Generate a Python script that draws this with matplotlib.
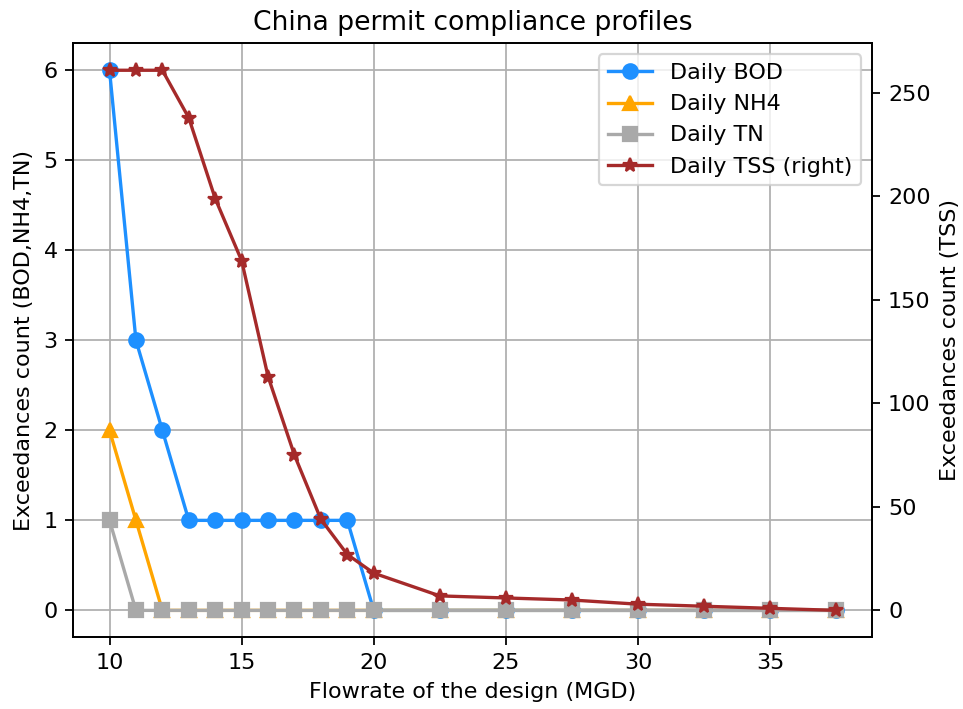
import matplotlib
matplotlib.use("Agg")
import matplotlib.pyplot as plt

# flowrate del diseno (MGD)
flowrate = [10, 11, 12, 13, 14, 15, 16, 17, 18, 19, 20, 22.5, 25, 27.5, 30, 32.5, 35, 37.5]

# conteo de excedencias por contaminante
bod = [6, 3, 2, 1, 1, 1, 1, 1, 1, 1, 0, 0, 0, 0, 0, 0, 0, 0]
nh4 = [2, 1, 0, 0, 0, 0, 0, 0, 0, 0, 0, 0, 0, 0, 0, 0, 0, 0]
tn = [1, 0, 0, 0, 0, 0, 0, 0, 0, 0, 0, 0, 0, 0, 0, 0, 0, 0]
tss = [261, 261, 261, 238, 199, 169, 113, 75, 44, 27, 18, 7, 6, 5, 3, 2, 1, 0]

DPI = 160
fig, ax = plt.subplots(figsize=(963 / DPI, 709 / DPI), dpi=DPI)
ax2 = ax.twinx()

l1, = ax.plot(flowrate, bod, marker="o", color="dodgerblue", markersize=6.5, label="Daily BOD")
l2, = ax.plot(flowrate, nh4, marker="^", color="orange", markersize=6.5, label="Daily NH4")
l3, = ax.plot(flowrate, tn, marker="s", color="darkgray", markersize=6.5, label="Daily TN")
l4, = ax2.plot(flowrate, tss, marker="*", color="brown", markersize=6.5, label="Daily TSS (right)")

ax.set_xlabel("Flowrate of the design (MGD)")
ax.set_ylabel("Exceedances count (BOD,NH4,TN)")
ax2.set_ylabel("Exceedances count (TSS)")
ax.set_title("China permit compliance profiles")
ax.grid(True)

ax2.legend(handles=[l1, l2, l3, l4], loc="upper right")

fig.subplots_adjust(left=0.076, right=0.906, bottom=0.101, top=0.939)
fig.savefig("out.png", dpi=DPI)
